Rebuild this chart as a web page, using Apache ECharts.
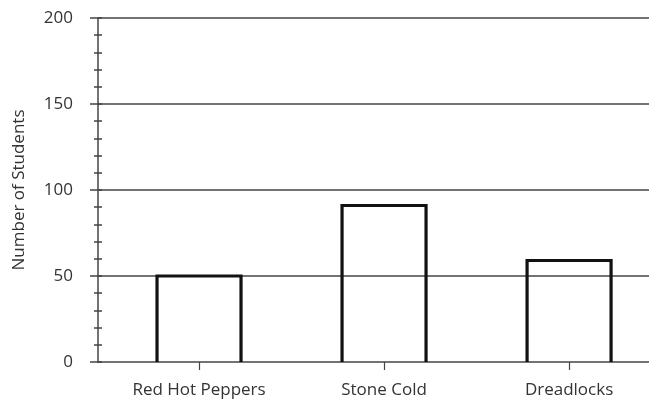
<!DOCTYPE html>
<html>
<head>
<meta charset="utf-8">
<script src="https://cdn.jsdelivr.net/npm/echarts@6/dist/echarts.min.js"></script>
<style>
    html, body { margin: 0; padding: 0; background: #fff; }
    #chart { width: 649px; height: 401px; }
</style>
</head>
<body>
<div id="chart"></div>
<script>
    // data
    var teams = ['Red Hot Peppers', 'Stone Cold', 'Dreadlocks'];
    var students = [50, 91, 59];
    var yTicks = [0, 50, 100, 150, 200];

    var font = 'Open Sans';
    var ink = '#333';
    var lineCol = '#444';

    var myChart = echarts.init(document.getElementById('chart'));

    // bars sit on index positions 0,1,2 of a numeric x axis
    var barData = students.map(function (v, i) {
        return [i, v];
    });

    var option = {
        animation: false,
        textStyle: { fontFamily: font },
        grid: { left: 98, right: 0, top: 18, bottom: 39, outerBoundsMode: 'none' },
        xAxis: {
            type: 'value',
            // plot edge is not symmetric around the bars in the picture
            min: -0.546,
            max: 2.432,
            axisLine: { show: false, onZero: false },
            splitLine: { show: false },
            axisTick: {
                show: true,
                customValues: [0, 1, 2],
                length: 8,
                lineStyle: { color: lineCol, width: 1.2 }
            },
            axisLabel: {
                customValues: [0, 1, 2],
                formatter: function (v) { return teams[Math.round(v)]; },
                fontSize: 17,
                color: ink,
                margin: 20,
                fontFamily: font
            }
        },
        yAxis: [
            {
                type: 'value',
                min: yTicks[0],
                max: yTicks[yTicks.length - 1],
                interval: 50,
                name: 'Number of Students',
                nameLocation: 'middle',
                nameGap: 70,
                nameTextStyle: { fontSize: 17, color: ink, fontFamily: font },
                axisLine: { show: true, onZero: false, lineStyle: { color: lineCol, width: 1.5 } },
                axisTick: { show: true, length: 8, lineStyle: { color: lineCol, width: 1.5 } },
                minorTick: { show: true, splitNumber: 5, length: 4, lineStyle: { color: lineCol, width: 1.5 } },
                axisLabel: { fontSize: 17, color: ink, margin: 25, fontFamily: font },
                splitLine: { show: true, lineStyle: { color: lineCol, width: 1.5 } }
            },
            {
                // inner half of the small ticks
                type: 'value',
                position: 'left',
                offset: 0,
                min: 0,
                max: 200,
                interval: 10,
                axisLine: { show: false, onZero: false },
                axisTick: { show: true, inside: true, length: 4, lineStyle: { color: lineCol, width: 1.5 } },
                axisLabel: { show: false },
                splitLine: { show: false }
            }
        ],
        series: [
            {
                // open-bottom outlined bars
                type: 'custom',
                data: barData,
                renderItem: function (params, api) {
                    var top = api.coord([api.value(0), api.value(1)]);
                    var base = api.coord([api.value(0), 0]);
                    var half = 42;
                    return {
                        type: 'polyline',
                        shape: {
                            points: [
                                [top[0] - half, base[1]],
                                [top[0] - half, top[1]],
                                [top[0] + half, top[1]],
                                [top[0] + half, base[1]]
                            ]
                        },
                        style: { stroke: '#111', lineWidth: 3.2, fill: null }
                    };
                }
            }
        ]
    };

    myChart.setOption(option);
</script>
</body>
</html>
